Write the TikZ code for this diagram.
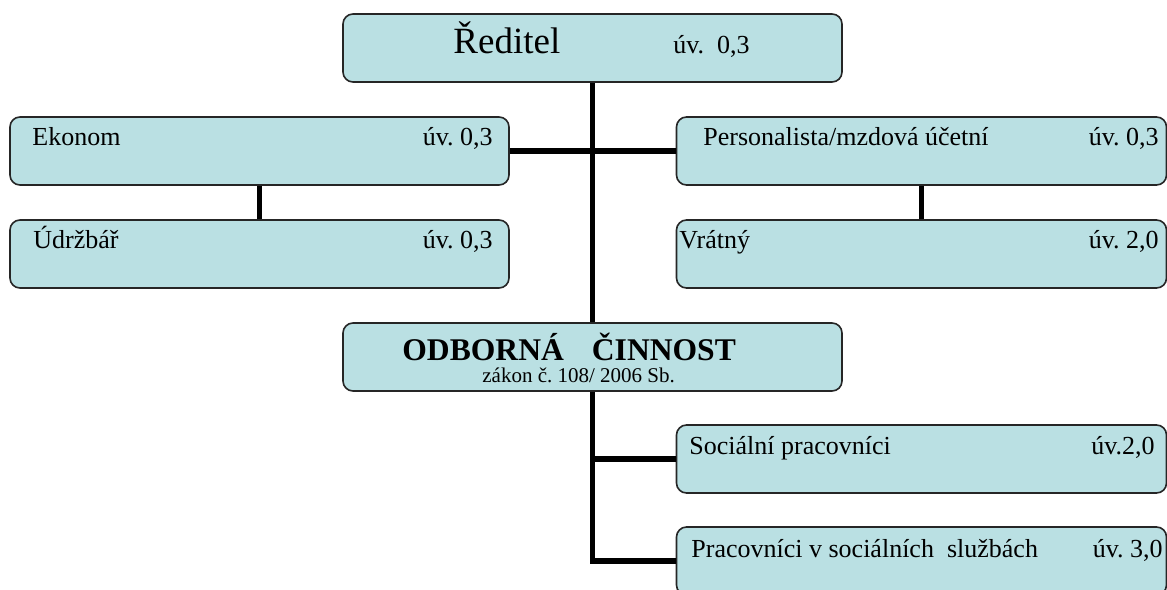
\documentclass[tikz,border=0pt]{standalone}
\usepackage{fontspec}
\setmainfont{Liberation Serif}
\usetikzlibrary{positioning,calc}
\definecolor{boxfill}{RGB}{186,224,227}
\frenchspacing
\begin{document}
\begin{tikzpicture}[x=0.5pt,y=-0.5pt,
    orgbox/.style={rectangle,rounded corners=5pt,draw=black!85,line width=0.8pt,fill=boxfill,minimum height=34pt,inner sep=0pt},
    widebox/.style={orgbox,minimum width=249.5pt},
    sidebox/.style={orgbox,minimum width=245pt},
    txt/.style={inner sep=0pt,font=\fontsize{13}{15}\selectfont},
    link/.style={line width=2.8pt}]
    \useasboundingbox (0,0) rectangle (1167,589);
    % boxes
    \node (red) [widebox] at (592.5,48) {};
    \node (eko) [widebox] at (259.5,151) {};
    \node (udr) [widebox] at (259.5,254) {};
    \node (per) [sidebox] at (921.5,151) {};
    \node (vra) [sidebox] at (921.5,254) {};
    \node (odb) [widebox] at (592.5,357) {};
    \node (soc) [sidebox] at (921.5,459) {};
    \node (pra) [sidebox] at (921.5,561) {};
    % texts
    \node (redT) [txt,anchor=base west,font=\fontsize{18.5}{20}\selectfont] at (453,53) {Ředitel};
    \node (redU) [txt,anchor=base west] at (673,53) {úv.\ \ 0,3};
    \node (ekoT) [txt,anchor=base west] at (32,145) {Ekonom};
    \node (ekoU) [txt,anchor=base east] at (493,145) {úv. 0,3};
    \node (udrT) [txt,anchor=base west] at (33,248) {Údržbář};
    \node (udrU) [txt,anchor=base east] at (493,248) {úv. 0,3};
    \node (perT) [txt,anchor=base west] at (703,145) {Personalista/mzdová účetní};
    \node (perU) [txt,anchor=base east] at (1159,145) {úv. 0,3};
    \node (vraT) [txt,anchor=base west] at (679,248) {Vrátný};
    \node (vraU) [txt,anchor=base east] at (1159,248) {úv. 2,0};
    \node (odbT) [txt,anchor=base west,font=\bfseries\fontsize{15.8}{18}\selectfont] at (402,360) {ODBORNÁ\hspace{14pt}ČINNOST};
    \node (odbU) [txt,anchor=base west,font=\fontsize{10.5}{12}\selectfont] at (482,382) {zákon č. 108/ 2006 Sb.};
    \node (socT) [txt,anchor=base west] at (689,454) {Sociální pracovníci};
    \node (socU) [txt,anchor=base east] at (1155,454) {úv.2,0};
    \node (praT) [txt,anchor=base west] at (691,557) {Pracovníci v sociálních\ \ službách};
    \node (praU) [txt,anchor=base east] at (1163,557) {úv. 3,0};
    % connectors
    \draw [link] (red.south) -- (odb.north);
    \draw [link] (eko.east) -- (eko.east -| red.south);
    \draw [link] (per.west) -- (per.west -| red.south);
    \draw [link] (eko.south) -- (udr.north);
    \draw [link] (per.south) -- (vra.north);
    \draw [link] (odb.south) |- (pra.west);
    \draw [link] (soc.west) -- (soc.west -| odb.south);
\end{tikzpicture}
\end{document}
